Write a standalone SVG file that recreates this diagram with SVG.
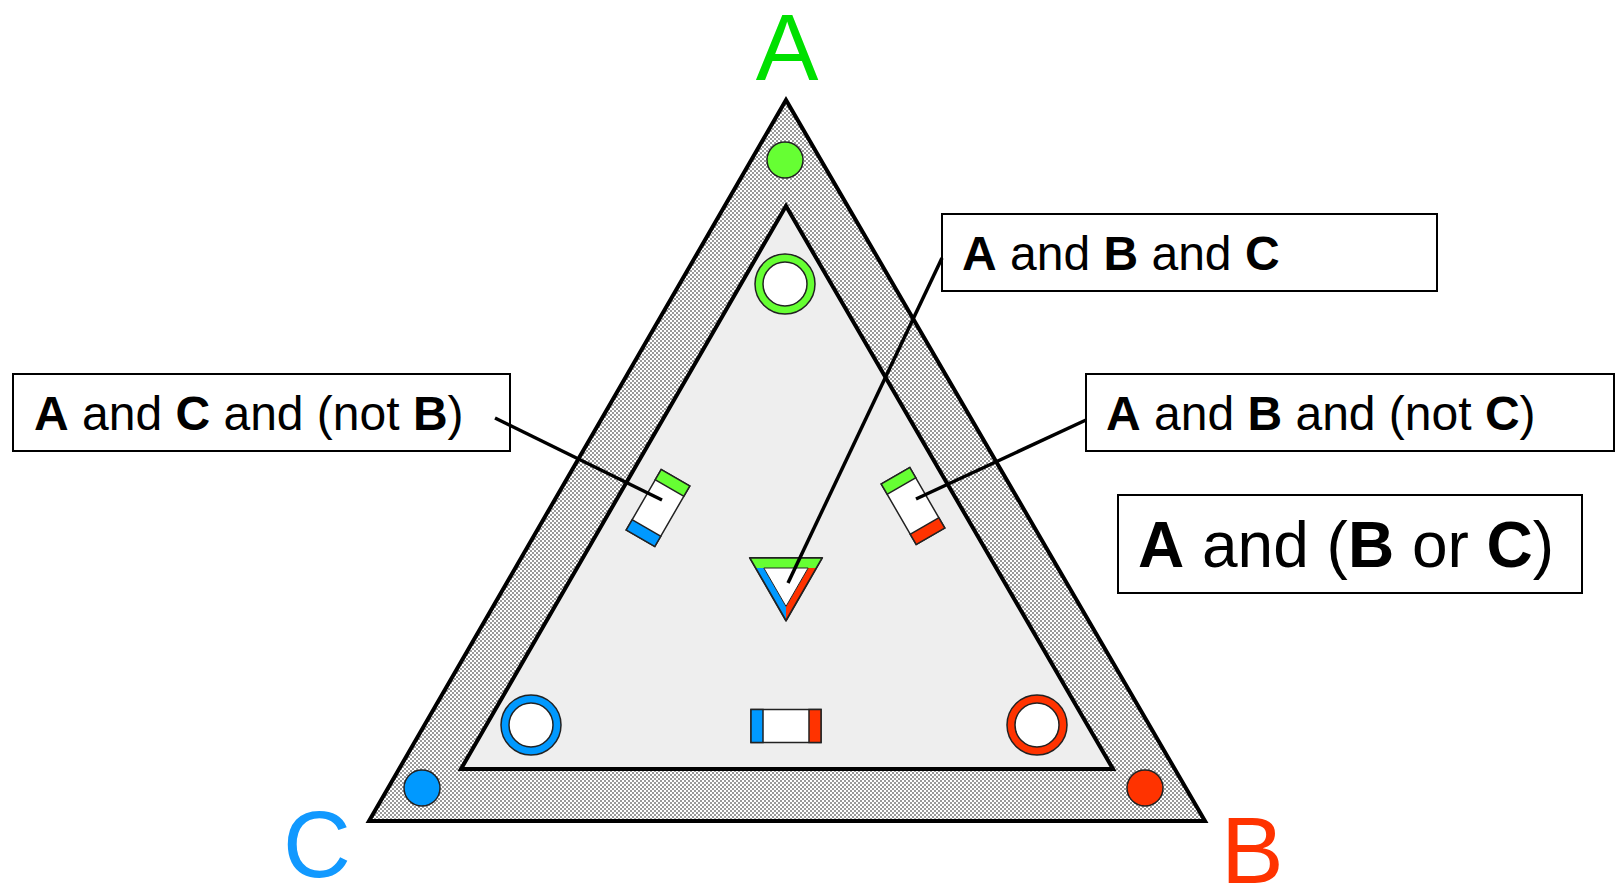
<svg xmlns="http://www.w3.org/2000/svg" width="1618" height="888" viewBox="0 0 1618 888">
<defs>
<pattern id="dots" width="4" height="4" patternUnits="userSpaceOnUse">
<rect width="4" height="4" fill="#ffffff"/>
<circle cx="1" cy="1" r="0.75" fill="#000"/>
<circle cx="3" cy="3" r="0.75" fill="#000"/>
</pattern>
<style>
.lbl{font-family:"Liberation Sans",Arial,sans-serif;font-size:94px}
.box{fill:#fff;stroke:#000;stroke-width:2}
.t{font-family:"Liberation Sans",Arial,sans-serif;font-size:48px;fill:#000}
.t2{font-family:"Liberation Sans",Arial,sans-serif;font-size:64px;fill:#000}
.b{font-weight:bold}
.edge{stroke:#222;stroke-width:1.5}
.conn{stroke:#000;stroke-width:3.5;fill:none}
</style>
</defs>
<rect width="1618" height="888" fill="#fff"/>

<g id="triangle">
<polygon points="786,100 369,821 1205,821" fill="url(#dots)" stroke="#000" stroke-width="4" stroke-linejoin="miter"/>
<polygon points="786,206 461,769 1113,769" fill="#eeeeee" stroke="#000" stroke-width="4"/>
</g>

<g id="label-A"><text class="lbl" x="787" y="80" text-anchor="middle" fill="#00e000">A</text></g>
<g id="label-B"><text class="lbl" x="1221" y="883" fill="#ff3300">B</text></g>
<g id="label-C"><text class="lbl" x="283" y="877" fill="#1199ff">C</text></g>

<g id="dot-A"><circle class="edge" cx="785" cy="160" r="18" fill="#66ff33"/></g>
<g id="dot-B"><circle class="edge" cx="1145" cy="788" r="18" fill="#ff3300"/></g>
<g id="dot-C"><circle class="edge" cx="422" cy="788" r="18" fill="#0099ff"/></g>

<g id="ring-A"><circle class="edge" cx="785" cy="284" r="30" fill="#66ff33"/><circle class="edge" cx="785" cy="284" r="22" fill="#fff"/></g>
<g id="ring-C"><circle class="edge" cx="531" cy="725" r="30" fill="#0099ff"/><circle class="edge" cx="531" cy="725" r="22" fill="#fff"/></g>
<g id="ring-B"><circle class="edge" cx="1037" cy="725" r="30" fill="#ff3300"/><circle class="edge" cx="1037" cy="725" r="22" fill="#fff"/></g>

<g id="rect-BC" transform="translate(786,726)">
<rect class="edge" x="-35" y="-16.5" width="70" height="33" fill="#fff"/>
<rect class="edge" x="-35" y="-16.5" width="12" height="33" fill="#0099ff"/>
<rect class="edge" x="23" y="-16.5" width="12" height="33" fill="#ff3300"/>
</g>
<g id="rect-AC" transform="translate(658,508) rotate(-60)">
<rect class="edge" x="-35" y="-16.5" width="70" height="33" fill="#fff"/>
<rect class="edge" x="-35" y="-16.5" width="12" height="33" fill="#0099ff"/>
<rect class="edge" x="23" y="-16.5" width="12" height="33" fill="#66ff33"/>
</g>
<g id="rect-AB" transform="translate(913,506) rotate(60)">
<rect class="edge" x="-35" y="-16.5" width="70" height="33" fill="#fff"/>
<rect class="edge" x="-35" y="-16.5" width="12" height="33" fill="#66ff33"/>
<rect class="edge" x="23" y="-16.5" width="12" height="33" fill="#ff3300"/>
</g>

<g id="tri-ABC">
<polygon points="750,558 822,558 786,620.4" fill="#fff" stroke="#222" stroke-width="2" stroke-linejoin="round"/>
<polygon points="750,558 822,558 816.2,568 755.8,568" fill="#66ff33"/>
<polygon points="755.8,568 763.85,568 786,606.4 786,620.4" fill="#0099ff"/>
<polygon points="816.2,568 808.15,568 786,606.4 786,620.4" fill="#ff3300"/>
<polygon points="763.85,568 808.15,568 786,606.4" fill="#fff" stroke="#222" stroke-width="1"/>
<polygon points="750,558 822,558 786,620.4" fill="none" stroke="#222" stroke-width="1.5"/>
</g>

<g id="box-ABC">
<rect class="box" x="942" y="214" width="495" height="77"/>
<text class="t" x="962" y="270"><tspan class="b">A</tspan> and <tspan class="b">B</tspan> and <tspan class="b">C</tspan></text>
</g>
<g id="box-ACnotB">
<rect class="box" x="13" y="374" width="497" height="77"/>
<text class="t" x="34" y="430"><tspan class="b">A</tspan> and <tspan class="b">C</tspan> and (not <tspan class="b">B</tspan>)</text>
</g>
<g id="box-ABnotC">
<rect class="box" x="1086" y="374" width="528" height="77"/>
<text class="t" x="1106" y="430"><tspan class="b">A</tspan> and <tspan class="b">B</tspan> and (not <tspan class="b">C</tspan>)</text>
</g>
<g id="box-AorBC">
<rect class="box" x="1118" y="495" width="464" height="98"/>
<text class="t2" x="1138" y="567"><tspan class="b">A</tspan> and (<tspan class="b">B</tspan> or <tspan class="b">C</tspan>)</text>
</g>

<g id="connectors">
<line class="conn" x1="942" y1="258" x2="788" y2="583"/>
<line class="conn" x1="495" y1="418" x2="662" y2="500"/>
<line class="conn" x1="1086" y1="420" x2="916" y2="499"/>
</g>
</svg>
